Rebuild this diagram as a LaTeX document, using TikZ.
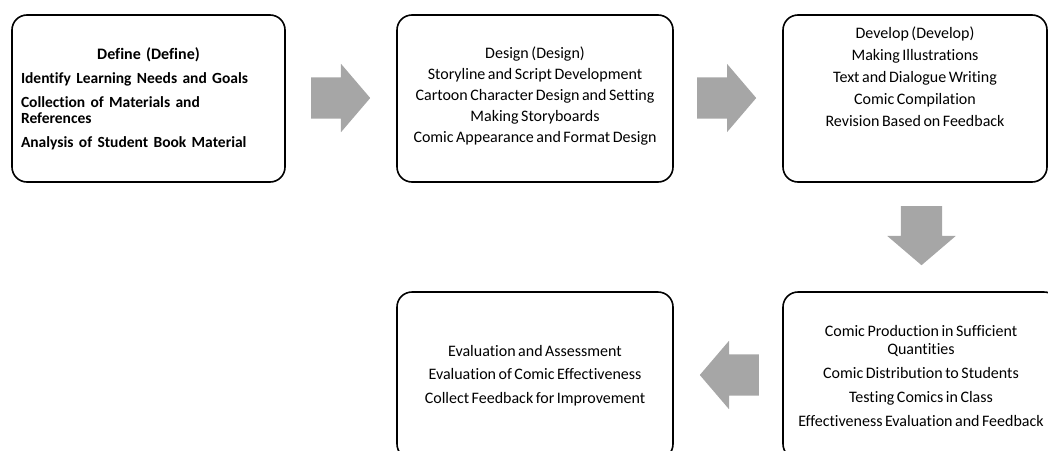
\documentclass[tikz,border=0pt]{standalone}
\usepackage{fontspec}
\setmainfont{Carlito}[Ligatures=CommonOff, WordSpace=0.7]
\usetikzlibrary{shapes.arrows}
\definecolor{arrowgray}{HTML}{A6A6A6}

\begin{document}
\begin{tikzpicture}[x=1pt, y=-1pt,
   phase/.style={draw, line width=1.6pt, rounded corners=15pt, minimum width=#1,
      minimum height=167pt, inner sep=0pt, align=center,
      font=\fontsize{16}{16}\selectfont},
   flow/.style={single arrow, fill=arrowgray, draw=none, inner xsep=0pt,
      inner ysep=20.5pt, minimum height=59pt, single arrow head extend=13.5pt,
      single arrow tip angle=99, rotate=#1, anchor=tail}]

\clip (0,0) rectangle (1048,450);

\node[phase=273pt, text width=255pt, align=left] (define) at (148.5,98.5)
   {{\centering\bfseries Define (Define)\par}\vspace{8pt}
    \fontsize{15.5}{16}\selectfont\bfseries Identify Learning Needs and Goals\\[8pt]
    Collection of Materials and\\ References\\[8pt]
    Analysis of Student Book Material};
\node[phase=276pt, text depth=7pt] (design) at (535,98.5)
   {Design (Design)\\[5pt] Storyline and Script Development\\[5pt]
    Cartoon Character Design and Setting\\[5pt] Making Storyboards\\[5pt]
    Comic Appearance and Format Design};
\node[phase=264pt, text depth=43pt] (develop) at (915,98.5)
   {Develop (Develop)\\[6pt] Making Illustrations\\[6pt]
    Text and Dialogue Writing\\[6pt] Comic Compilation\\[6pt]
    Revision Based on Feedback};
\node[phase=276pt] (implement) at (921,375.5)
   {Comic Production in Sufficient\\[2pt] Quantities\\[8pt]
    Comic Distribution to Students\\[8pt] Testing Comics in Class\\[8pt]
    Effectiveness Evaluation and Feedback};
\node[phase=276pt] (evaluate) at (535,375.5)
   {Evaluation and Assessment\\[7.5pt] Evaluation of Comic Effectiveness\\[7.5pt]
    Collect Feedback for Improvement};

\node[flow=0] (toDesign) at (311,98) {};
\node[flow=0] (toDevelop) at (697,98) {};
\node[flow=-90] (toImplement) at (921.5,206) {};
\node[flow=180] (toEvaluate) at (759,375) {};

\end{tikzpicture}
\end{document}
